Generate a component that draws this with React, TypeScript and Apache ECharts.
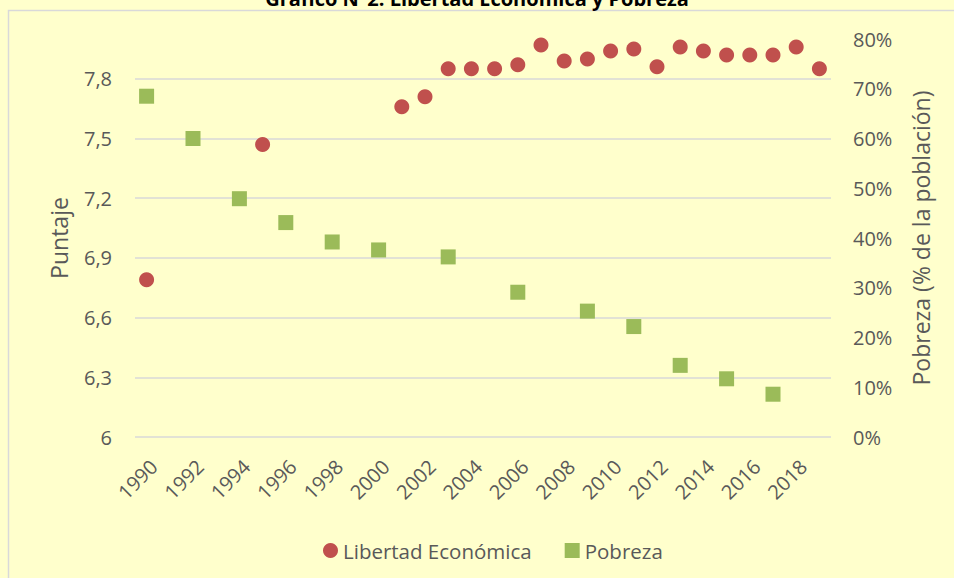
import React, { useEffect, useRef } from 'react';
import * as echarts from 'echarts';

const TITLE = 'Gráfico N°2: Libertad Económica y Pobreza';

const years = [
  '1990', '1991', '1992', '1993', '1994', '1995', '1996', '1997', '1998', '1999',
  '2000', '2001', '2002', '2003', '2004', '2005', '2006', '2007', '2008', '2009',
  '2010', '2011', '2012', '2013', '2014', '2015', '2016', '2017', '2018', '2019',
];

const libertadYears = [
  '1990', '1995', '2001', '2002', '2003', '2004', '2005', '2006', '2007', '2008', '2009',
  '2010', '2011', '2012', '2013', '2014', '2015', '2016', '2017', '2018', '2019',
];
const libertadValues = [
  6.79, 7.47, 7.66, 7.71, 7.85, 7.85, 7.85, 7.87, 7.97, 7.89, 7.9,
  7.94, 7.95, 7.86, 7.96, 7.94, 7.92, 7.92, 7.92, 7.96, 7.85,
];

const pobrezaYears = [
  '1990', '1992', '1994', '1996', '1998', '2000', '2003', '2006', '2009', '2011', '2013', '2015', '2017',
];
const pobrezaValues = [
  0.685, 0.6, 0.479, 0.431, 0.392, 0.376, 0.362, 0.291, 0.253, 0.222, 0.144, 0.117, 0.086,
];

const SERIES_NAMES = ['Libertad Económica', 'Pobreza'];
const LEFT_AXIS_NAME = 'Puntaje';
const RIGHT_AXIS_NAME = 'Pobreza (% de la población)';

const FONT = '"Open Sans", "Noto Sans", sans-serif';
const GREY = '#595959';

export default function App() {
  const ref = useRef<HTMLDivElement>(null);

  useEffect(() => {
    if (!ref.current) return;
    const chart = echarts.init(ref.current, undefined, { renderer: 'svg' });
    chart.setOption({
      animation: false,
      backgroundColor: '#FFFFCC',
      textStyle: { fontFamily: FONT },
      grid: { left: 135, right: 123, top: 39, bottom: 141, containLabel: false },
      xAxis: {
        type: 'category',
        data: years,
        boundaryGap: true,
        axisLine: { show: false },
        axisTick: { show: false },
        splitLine: { show: false },
        axisLabel: {
          interval: 1,
          rotate: 45,
          fontSize: 20,
          color: GREY,
          fontFamily: FONT,
          margin: 19,
          verticalAlign: 'top',
        },
      },
      yAxis: [
        {
          type: 'value',
          position: 'left',
          min: 6,
          max: 8,
          interval: 0.3,
          name: LEFT_AXIS_NAME,
          nameLocation: 'middle',
          nameRotate: 90,
          nameGap: 65,
          nameTextStyle: { fontSize: 23, color: GREY, fontFamily: FONT },
          axisLine: { show: false },
          axisTick: { show: false },
          axisLabel: {
            fontSize: 20,
            color: GREY,
            fontFamily: FONT,
            margin: 23,
            showMaxLabel: false,
            formatter: (v: number) =>
              Number.isInteger(v) ? String(v) : v.toFixed(1).replace('.', ','),
          },
          splitLine: {
            show: true,
            showMaxLine: false,
            lineStyle: { color: '#D9D9D9', width: 1.5 },
          },
        },
        {
          type: 'value',
          position: 'right',
          min: 0,
          max: 0.8,
          interval: 0.1,
          name: RIGHT_AXIS_NAME,
          nameLocation: 'middle',
          nameRotate: 90,
          nameGap: 78,
          nameTextStyle: { fontSize: 23, color: GREY, fontFamily: FONT },
          axisLine: { show: false },
          axisTick: { show: false },
          axisLabel: {
            fontSize: 20,
            color: GREY,
            fontFamily: FONT,
            margin: 22,
            formatter: (v: number) => Math.round(v * 100) + '%',
          },
          splitLine: { show: false },
        },
      ],
      legend: {
        data: SERIES_NAMES,
        left: 318,
        top: 535,
        itemWidth: 15,
        itemHeight: 15,
        itemGap: 33,
        textStyle: { fontSize: 20.5, color: GREY, fontFamily: FONT },
      },
      series: [
        {
          type: 'scatter',
          name: SERIES_NAMES[0],
          yAxisIndex: 0,
          symbol: 'circle',
          symbolSize: 15,
          itemStyle: { color: '#C0504D', opacity: 1 },
          data: libertadYears.map((y, i) => [y, libertadValues[i]]),
        },
        {
          type: 'scatter',
          name: SERIES_NAMES[1],
          yAxisIndex: 1,
          symbol: 'rect',
          symbolSize: 15,
          itemStyle: { color: '#9BBB59', opacity: 1 },
          data: pobrezaYears.map((y, i) => [y, pobrezaValues[i]]),
        },
      ],
      graphic: [
        {
          type: 'rect',
          silent: true,
          z: -1,
          shape: { x: 8.5, y: 10.5, width: 1000, height: 1000 },
          style: { fill: 'none', stroke: '#D9D9D9', lineWidth: 1.5 },
        },
        {
          type: 'text',
          silent: true,
          x: 477,
          y: 8,
          style: {
            text: TITLE,
            fontSize: 20,
            fontWeight: 'bold',
            fontFamily: FONT,
            fill: '#000000',
            align: 'center',
            verticalAlign: 'bottom',
          },
        },
      ],
    });
    return () => chart.dispose();
  }, []);

  return (
    <div
      ref={ref}
      style={{ position: 'absolute', left: 0, top: 0, width: 954, height: 578, background: '#FFFFCC' }}
    />
  );
}
